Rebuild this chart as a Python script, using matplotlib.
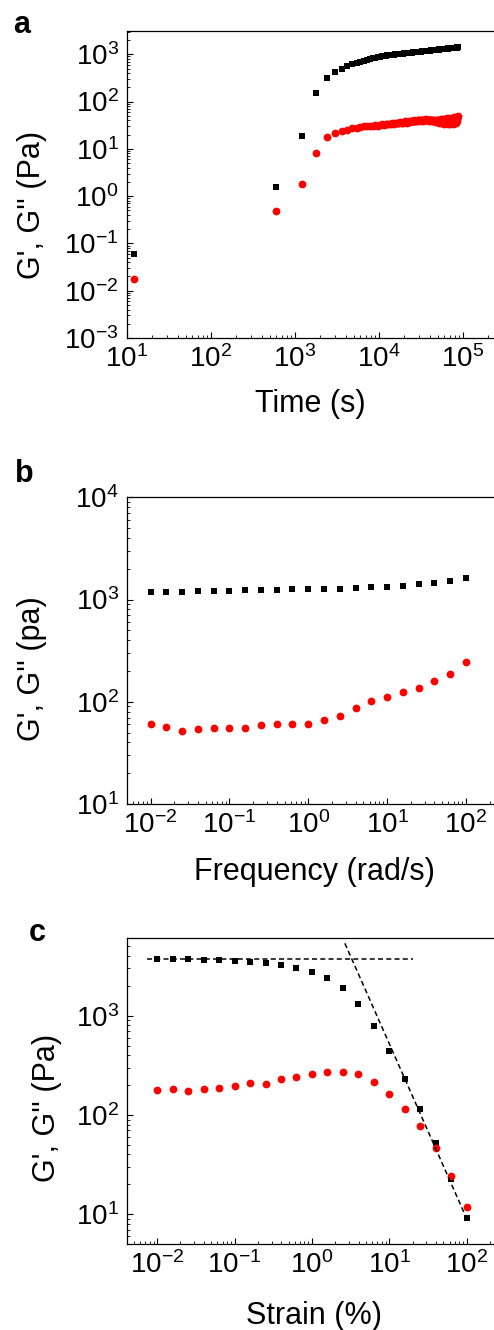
import numpy as np
import matplotlib
matplotlib.use('Agg')
import matplotlib.pyplot as plt
from matplotlib.ticker import LogLocator, NullFormatter

plt.rcParams['font.family'] = ['Liberation Sans', 'DejaVu Sans']
plt.rcParams['mathtext.fontset'] = 'custom'
plt.rcParams['mathtext.rm'] = 'Liberation Sans'
plt.rcParams['mathtext.it'] = 'Liberation Sans:italic'
plt.rcParams['mathtext.bf'] = 'Liberation Sans:bold'
plt.rcParams['axes.unicode_minus'] = False

# (a) time sweep, one point every 600 s after the first reading
time_s = [12] + list(range(600, 86401, 600))
g1_time = [0.06, 1.6, 19, 150, 310, 430, 500, 560, 610, 660, 700, 735, 765, 795, 820,
           845, 865, 885, 900, 915, 930, 945, 955, 965, 975, 985,
           993, 1000, 1008, 1015, 1022, 1028, 1035, 1041, 1047, 1054,
           1060, 1065, 1071, 1077, 1082, 1087, 1093, 1098, 1103, 1108,
           1113, 1118, 1122, 1127, 1131, 1136, 1140, 1145, 1149, 1153,
           1157, 1161, 1166, 1170, 1173, 1177, 1181, 1185, 1189, 1192,
           1196, 1200, 1203, 1207, 1210, 1214, 1217, 1220, 1224, 1227,
           1230, 1234, 1237, 1240, 1243, 1246, 1249, 1252, 1255, 1258,
           1261, 1264, 1267, 1270, 1273, 1275, 1278, 1281, 1284, 1286,
           1289, 1292, 1294, 1297, 1300, 1302, 1305, 1307, 1310, 1312,
           1315, 1317, 1320, 1322, 1325, 1327, 1330, 1332, 1334, 1337,
           1339, 1341, 1343, 1346, 1348, 1350, 1352, 1355, 1357, 1359,
           1361, 1363, 1365, 1368, 1370, 1372, 1374, 1376, 1378, 1380,
           1382, 1384, 1386, 1388, 1390, 1392, 1394, 1396, 1398]
g2_time = [0.018, 0.49, 1.8, 8.3, 17.6, 22, 24, 25, 27, 28, 29, 30, 30, 31, 31,
           32, 31, 32, 33, 32, 33, 34, 33, 34, 35, 34,
           35, 36, 35, 36, 37, 36, 36, 37, 38, 37,
           36, 37, 38, 37, 38, 39, 38, 39, 40, 39,
           38, 39, 40, 41, 40, 39, 40, 41, 40, 39,
           40, 41, 40, 41, 42, 41, 40, 41, 40, 39,
           40, 41, 40, 39, 40, 41, 40, 39, 38, 40,
           39, 38, 40, 37, 39, 41, 38, 37, 40, 39,
           36, 38, 41, 37, 39, 42, 36, 38, 40, 35,
           39, 42, 37, 34, 40, 43, 36, 38, 41, 35,
           39, 44, 37, 34, 40, 42, 36, 39, 45, 35,
           38, 41, 34, 43, 37, 40, 46, 35, 39, 42,
           33, 44, 38, 36, 47, 40, 35, 43, 38, 45,
           36, 41, 48, 37, 44, 39, 46, 42, 49]

# (b) frequency sweep
freq = [0.01, 0.0158, 0.0251, 0.0398, 0.0631, 0.1, 0.158, 0.251, 0.398, 0.631, 1,
        1.58, 2.51, 3.98, 6.31, 10, 15.8, 25.1, 39.8, 63.1, 100]
g1_freq = [1180, 1189, 1197, 1207, 1216, 1225, 1235, 1245, 1253, 1262, 1273,
           1282, 1282, 1301, 1312, 1341, 1371, 1413, 1455, 1514, 1607]
g2_freq = [60, 56.5, 52, 54, 56, 55, 55.6, 58.6, 60, 60.8, 60.8,
           66.7, 73, 86.7, 100.7, 112, 124, 137, 161, 188, 245]

# (c) strain sweep
strain = [0.01, 0.0158, 0.0251, 0.0398, 0.0631, 0.1, 0.158, 0.251, 0.398, 0.631, 1,
          1.58, 2.51, 3.98, 6.31, 10, 15.8, 25.1, 39.8, 63.1, 100]
g1_strain = [3700, 3727, 3700, 3673, 3643, 3587, 3505, 3375, 3246, 3050, 2780,
             2417, 1915, 1313, 780, 436, 232, 115, 52.8, 22.5, 9.25]
g2_strain = [179.5, 182, 174, 184, 185, 194, 208, 206, 228, 243, 258,
             268, 271, 256, 214, 163, 116, 77, 46, 24.5, 11.9]
plateau_x = [0.0073, 20.3]
plateau_y = [3700, 3700]
slope_x = [2.66, 104]
slope_y = [5360, 8.4]

W, H = 494, 1330
fig = plt.figure(figsize=(W / 100, H / 100), dpi=100)


def make_axes(top, bottom):
    left, right = 127, 505
    return fig.add_axes([left / W, (H - bottom) / H, (right - left) / W, (bottom - top) / H])


def style(ax):
    for side in ('left', 'bottom', 'top'):
        ax.spines[side].set_linewidth(0.9)
    ax.spines['right'].set_visible(False)
    for axis in (ax.xaxis, ax.yaxis):
        axis.set_major_locator(LogLocator(base=10, numticks=30))
        axis.set_minor_locator(LogLocator(base=10, subs=np.arange(2, 10), numticks=30))
        axis.set_minor_formatter(NullFormatter())
    ax.tick_params(which='major', direction='in', length=4, width=0.8, labelsize=20)
    ax.tick_params(which='minor', direction='in', length=2, width=0.6)
    ax.tick_params(axis='x', which='major', pad=5)
    ax.tick_params(axis='y', which='major', pad=6)


sq = dict(marker='s', ls='none', color='black', markersize=5.0, markeredgewidth=0)
ci = dict(marker='o', ls='none', color='#ff0000', markersize=5.6, markeredgewidth=0)

# panel a
ax = make_axes(31, 338)
ax.set_xscale('log')
ax.set_yscale('log')
ax.plot(time_s, g1_time, **sq)
ax.plot(time_s, g2_time, **ci)
ax.set_xlim(10, 10 ** 5.5)
ax.set_ylim(1e-3, 10 ** 3.493)
style(ax)
ax.set_xlabel('Time (s)', fontsize=22)
ax.set_ylabel("G', G'' (Pa)", fontsize=22)
ax.xaxis.set_label_coords(0.484, -0.165)
ax.yaxis.set_label_coords(-0.212, 0.433)

# panel b
ax = make_axes(497.3, 804)
ax.set_xscale('log')
ax.set_yscale('log')
ax.plot(freq, g1_freq, **sq)
ax.plot(freq, g2_freq, **ci)
ax.set_xlim(10 ** -2.3, 10 ** 2.497)
ax.set_ylim(10, 1e4)
style(ax)
ax.set_xlabel('Frequency (rad/s)', fontsize=22)
ax.set_ylabel("G', G'' (pa)", fontsize=22)
ax.xaxis.set_label_coords(0.495, -0.172)
ax.yaxis.set_label_coords(-0.212, 0.443)

# panel c
ax = make_axes(938.3, 1244)
ax.set_xscale('log')
ax.set_yscale('log')
ax.plot(strain, g1_strain, **sq)
ax.plot(strain, g2_strain, **ci)
ax.plot(plateau_x, plateau_y, color='black', lw=1.1, dashes=(3.3, 2.1))
ax.plot(slope_x, slope_y, color='black', lw=1.1, dashes=(3.3, 2.1))
ax.set_xlim(10 ** -2.39, 10 ** 2.494)
ax.set_ylim(10 ** 0.7, 10 ** 3.78)
style(ax)
ax.set_xlabel('Strain (%)', fontsize=22)
ax.set_ylabel("G', G'' (Pa)", fontsize=22)
ax.xaxis.set_label_coords(0.495, -0.185)
ax.yaxis.set_label_coords(-0.172, 0.445)

# panel letters
for letter, x, y in (('a', 13, 33), ('b', 15, 482), ('c', 29, 941)):
    fig.text(x / W, 1 - y / H, letter, fontsize=22, fontweight='bold', va='baseline', ha='left')

fig.savefig('out.png', dpi=100)
